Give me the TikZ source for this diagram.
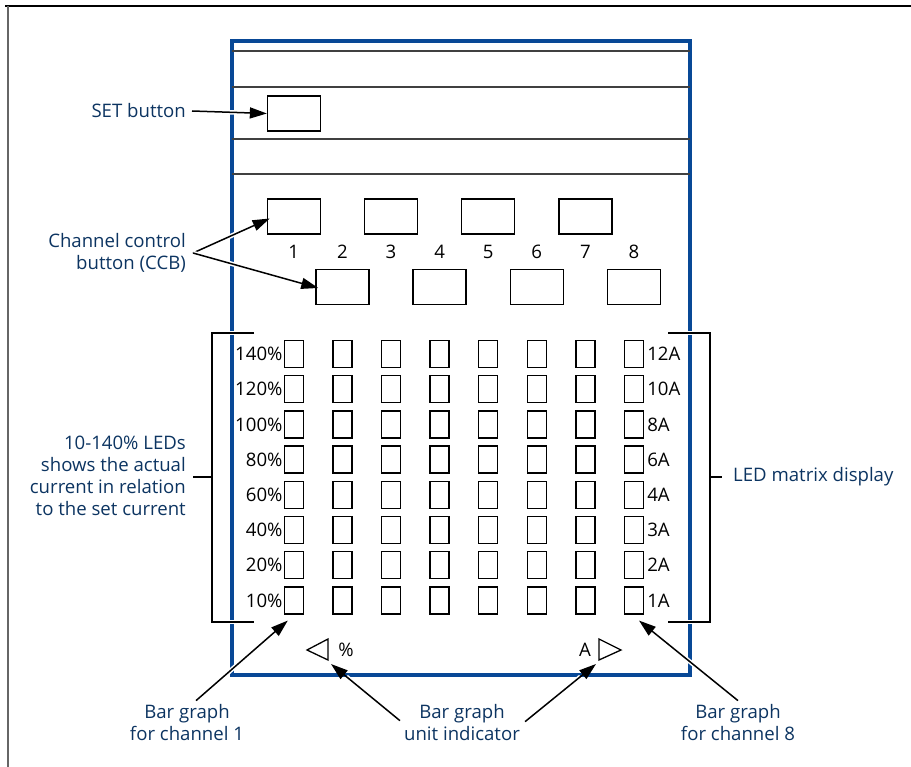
\documentclass[tikz,border=0pt]{standalone}
\usepackage{fontspec}
\setmainfont{Open Sans}
\usetikzlibrary{arrows.meta,calc,positioning}
\definecolor{navy}{RGB}{12,52,97}
\definecolor{frameblue}{RGB}{8,72,150}
\tikzset{
  callout/.style={text=navy, font=\fontsize{18.6}{22}\selectfont, inner sep=0pt},
  scalelbl/.style={font=\fontsize{18.6}{20}\selectfont, inner sep=0pt},
  btn/.style={draw, line width=1.3pt, minimum width=53pt, minimum height=35pt, inner sep=0pt},
  led/.style={draw, line width=1.3pt, minimum width=19pt, minimum height=27pt, inner sep=0pt},
  pointer/.style={line width=1.5pt, -{Triangle[length=17pt,width=11pt]},
    preaction={draw=white, line width=4.5pt, -, shorten >=20pt}},
  bracket/.style={line width=1.5pt, preaction={draw=white, line width=4.5pt}},
}
\begin{document}
\begin{tikzpicture}[x=1pt,y=-1pt]
  \useasboundingbox (0,0) rectangle (911,767);

  %%%%% FRAME %%%%%
  \draw[line width=1.8pt] (5,6) -- (911,6);
  \draw[line width=1.1pt, black!60] (8,6) -- (8,767);

  %%%%% DEVICE %%%%%
  \draw[frameblue, line width=3.2pt] (232,41) rectangle (690,675);
  \draw[line width=1.4pt, black!75] (232,51) -- (690,51);
  \draw[line width=1.4pt, black!75] (232,87) -- (690,87);
  \draw[line width=1.4pt, black!75] (232,139) -- (690,139);
  \draw[line width=1.4pt, black!75] (232,174) -- (690,174);

  \node[btn] (setbtn) at (294,113.5) {};

  % channel control buttons
  \foreach \n in {1,3,5,7}
    \node[btn] (ccb\n) at ({245.2+48.6*\n},216.5) {};
  \foreach \n in {2,4,6,8}
    \node[btn] (ccb\n) at ({245.2+48.6*\n},287) {};
  \foreach \n in {1,...,8}
    \node[scalelbl] (num\n) at ({245.2+48.6*\n},252) {\n};

  % LED matrix
  \foreach \c in {1,...,8}
    \foreach \r in {1,...,8}
      \node[led] (led\c\r) at ({245.2+48.6*\c},{318.8+35.2*\r}) {};
  \foreach \p [count=\r] in {140,120,100,80,60,40,20,10}
    \node[scalelbl, anchor=east] (pct\r) at ($(led1\r.west)+(-1,0)$) {\p\%};
  \foreach \a [count=\r] in {12A,10A,8A,6A,4A,3A,2A,1A}
    \node[scalelbl, anchor=west] (amp\r) at ($(led8\r.east)+(3,0)$) {\a};

  % unit indicators
  \draw[line width=1.3pt, line join=miter] (307,650) -- (328,639) -- (328,660) -- cycle;
  \draw[line width=1.3pt, line join=miter] (621,650) -- (599,639) -- (599,660) -- cycle;
  \node[scalelbl] (pctunit) at (346,650) {\%};
  \node[scalelbl] (ampunit) at (585,650) {A};
  \coordinate (pcttip) at (331,664);
  \coordinate (amptip) at (596,664);

  %%%%% BRACKETS %%%%%
  \draw[bracket] (254,333) -- (212,333) -- (212,622) -- (254,622);
  \draw[line width=1.5pt] (212,477) -- (193,477);
  \draw[bracket] (668,333) -- (710,333) -- (710,622) -- (668,622);
  \draw[line width=1.5pt] (710,477) -- (722,477);

  %%%%% CALLOUTS %%%%%
  \node[callout, anchor=east] (setlbl) at (186,111) {SET button};
  \node[callout, anchor=east, align=right] (ccblbl) at (186,253)
    {Channel control\\button (CCB)};
  \node[callout, anchor=east, align=right] (ledlbl) at (186,476)
    {10-140\% LEDs\\shows the actual\\current in relation\\to the set current};
  \node[callout, anchor=west] (matrixlbl) at (733,477) {LED matrix display};
  \node[callout, align=center] (ch1lbl) at (187,723) {Bar graph\\for channel 1};
  \node[callout, align=center] (unitlbl) at (462,723) {Bar graph\\unit indicator};
  \node[callout, align=center] (ch8lbl) at (738,723) {Bar graph\\for channel 8};

  \draw[pointer] ($(setlbl.east)+(6,0)$) -- (setbtn.west);
  \draw[pointer] ($(ccblbl.east)+(7,0)$) -- ($(ccb1.west)+(3,2)$);
  \draw[pointer] ($(ccblbl.east)+(7,0)$) -- ($(ccb2.west)+(3,1)$);
  \draw[pointer] ($(ch1lbl.north)+(9,-4)$) -- ($(led18.south)+(-6,6)$);
  \draw[pointer] ($(unitlbl.north west)+(-4,16)$) -- (pcttip);
  \draw[pointer] ($(unitlbl.north east)+(5,17)$) -- (amptip);
  \draw[pointer] ($(ch8lbl.north)+(0,-4)$) -- ($(led88.south)+(5,6)$);
\end{tikzpicture}
\end{document}
